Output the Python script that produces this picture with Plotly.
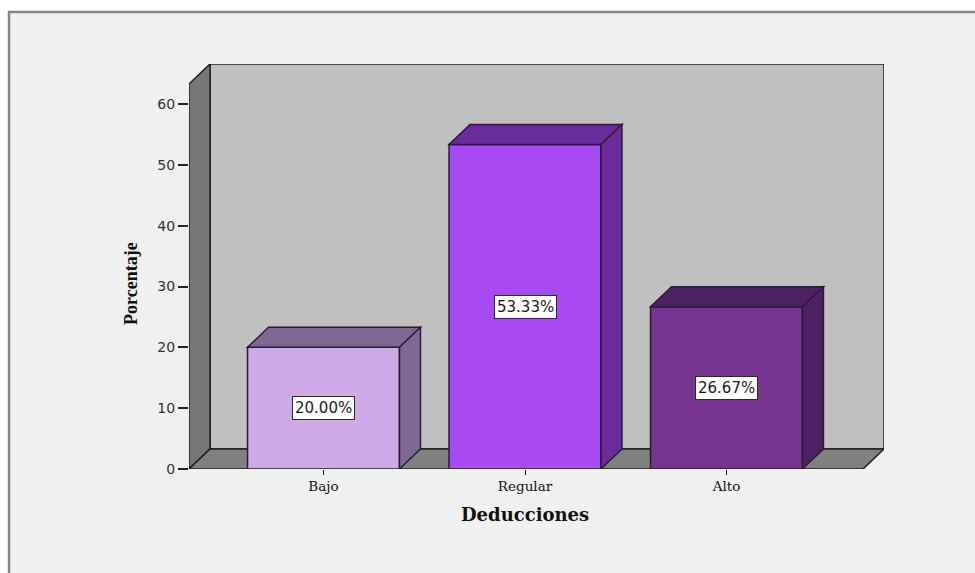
import plotly.graph_objects as go

# Data
categories = ["Bajo", "Regular", "Alto"]
percentages = [20.00, 53.33, 26.67]
y_ticks = [0, 10, 20, 30, 40, 50, 60]

front_colors = ["#CDA9E6", "#A74AF4", "#74348F"]
depth_colors = ["#7F6891", "#6A2B9B", "#4B2262"]
edge = "#2A1B36"

# Plot-area geometry (pixels) and the pseudo-3D depth offset
W, H = 975, 573
L_PX, R_PX, T_PX, B_PX = 189, 884, 64, 469
PX_PER_CAT = 201.5           # spacing between category centres
PX_PER_UNIT = 365.0 / 60.0   # vertical pixels per percentage point
DEPTH_X, DEPTH_Y = 21, 20    # depth offset in pixels
BAR_W = 0.754                # bar width in category units

x_lo = -(323.5 - L_PX) / PX_PER_CAT
x_hi = x_lo + (R_PX - L_PX) / PX_PER_CAT
y_hi = (B_PX - T_PX) / PX_PER_UNIT
dx = DEPTH_X / PX_PER_CAT
dy = DEPTH_Y / PX_PER_UNIT


def poly(pts):
    return "M " + " L ".join(f"{x},{y}" for x, y in pts) + " Z"


shapes = []
# page frame
shapes.append(dict(type="rect", xref="paper", yref="paper", layer="below",
                   x0=(9 - L_PX) / (R_PX - L_PX), x1=(990 - L_PX) / (R_PX - L_PX),
                   y0=(B_PX - 590) / (B_PX - T_PX), y1=(B_PX - 12) / (B_PX - T_PX),
                   fillcolor="#F0F0F0", line=dict(color="#858585", width=2.5)))
# back wall
shapes.append(dict(type="path", xref="x", yref="y", layer="below",
                   path=poly([(x_lo + dx, dy), (x_lo + dx, y_hi), (x_hi, y_hi), (x_hi, dy)]),
                   fillcolor="#C0C0C0", line=dict(color="#1E1E1E", width=1.5)))
# left wall
shapes.append(dict(type="path", xref="x", yref="y", layer="below",
                   path=poly([(x_lo, 0), (x_lo, y_hi - dy), (x_lo + dx, y_hi), (x_lo + dx, dy)]),
                   fillcolor="#777777", line=dict(color="#1E1E1E", width=1.5)))
# floor
shapes.append(dict(type="path", xref="x", yref="y", layer="below",
                   path=poly([(x_lo, 0), (x_hi - dx, 0), (x_hi, dy), (x_lo + dx, dy)]),
                   fillcolor="#808080", line=dict(color="#1E1E1E", width=1.5)))

# top and side faces of each bar
for i, v in enumerate(percentages):
    xl, xr = i - BAR_W / 2, i + BAR_W / 2
    shapes.append(dict(type="path", xref="x", yref="y", layer="above",
                       path=poly([(xl, v), (xl + dx, v + dy), (xr + dx, v + dy), (xr, v)]),
                       fillcolor=depth_colors[i], line=dict(color=edge, width=1.5)))
    shapes.append(dict(type="path", xref="x", yref="y", layer="above",
                       path=poly([(xr, 0), (xr, v), (xr + dx, v + dy), (xr + dx, dy)]),
                       fillcolor=depth_colors[i], line=dict(color=edge, width=1.5)))

fig = go.Figure()
fig.add_trace(go.Bar(
    x=list(range(len(categories))), y=percentages, width=BAR_W,
    marker=dict(color=front_colors, line=dict(color=edge, width=1.5)),
    hoverinfo="skip", showlegend=False,
))

annotations = []
for i, v in enumerate(percentages):
    annotations.append(dict(
        x=i, y=v / 2, xref="x", yref="y", text=f"{v:.2f}%", showarrow=False,
        font=dict(family="DejaVu Sans", size=15, color="#1A1A1A"),
        bgcolor="white", bordercolor="#2A2A2A", borderwidth=1, borderpad=2,
    ))
annotations.append(dict(
    x=1, y=-(514 - B_PX) / (B_PX - T_PX), xref="x", yref="paper",
    text="<b>Deducciones</b>", showarrow=False, yanchor="middle",
    font=dict(family="DejaVu Serif", size=18, color="#111111"),
))
annotations.append(dict(
    x=(131 - L_PX) / (R_PX - L_PX), y=(B_PX - 284) / (B_PX - T_PX),
    xref="paper", yref="paper", text="<b>Porcentaje</b>", showarrow=False,
    textangle=-90, xanchor="center", yanchor="middle",
    font=dict(family="Liberation Serif", size=18, color="#111111"),
))

fig.update_layout(
    width=W, height=H,
    margin=dict(l=L_PX, r=W - R_PX, t=T_PX, b=H - B_PX, pad=0),
    paper_bgcolor="white", plot_bgcolor="rgba(0,0,0,0)",
    shapes=shapes, annotations=annotations,
    xaxis=dict(range=[x_lo, x_hi], tickmode="array",
               tickvals=list(range(len(categories))), ticktext=categories,
               showgrid=False, zeroline=False, showline=False,
               ticks="outside", ticklen=5, tickwidth=1, tickcolor="#111111",
               tickfont=dict(family="DejaVu Serif", size=13.5, color="#111111")),
    yaxis=dict(range=[0, y_hi], tickmode="array", tickvals=y_ticks,
               showgrid=False, zeroline=False, showline=False,
               ticks="outside", ticklen=10, tickwidth=1.5, tickcolor="#222222",
               tickfont=dict(family="DejaVu Sans", size=14, color="#333333")),
)

fig.write_html("out.html")
